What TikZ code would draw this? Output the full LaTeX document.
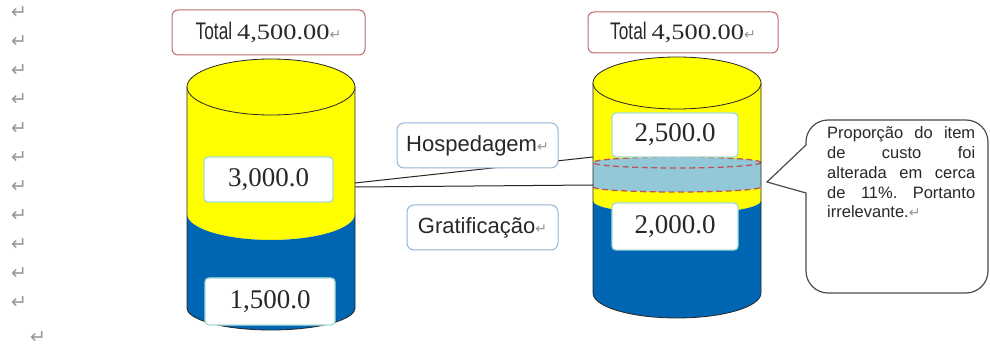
\documentclass[tikz,border=0pt]{standalone}
\usepackage{fontspec}
\usepackage{graphicx}
\newfontfamily\arialf{Liberation Sans}
\newfontfamily\timesf{Liberation Serif}
\newfontfamily\djvf{DejaVu Sans}
\definecolor{cylyellow}{RGB}{255,255,0}
\definecolor{cylblue}{RGB}{0,102,180}
\definecolor{bandblue}{RGB}{146,200,216}
\definecolor{dashred}{RGB}{190,85,85}
\definecolor{totalred}{RGB}{190,105,105}
\definecolor{labelblue}{RGB}{150,180,215}
\definecolor{numteal}{RGB}{165,220,215}
\definecolor{txtgray}{RGB}{40,40,40}
\definecolor{retgray}{RGB}{150,150,150}
\newcommand{\retmark}{{\djvf\fontsize{14}{14}\selectfont\textcolor{retgray}{↵}}}
\newcommand{\totaltext}{{\arialf\fontsize{24}{24}\selectfont\scalebox{0.72}[1]{Total}}\hspace{5pt}{\timesf\fontsize{22}{22}\selectfont\scalebox{1.2}[1]{4,500.00}}\retmark}
\begin{document}
\begin{tikzpicture}[x=1pt,y=-1pt,
  cyledge/.style={draw=black!85, line width=0.8pt},
  banddash/.style={draw=dashred, line width=1.3pt, dash pattern=on 6pt off 3.5pt},
  totalbox/.style={draw=totalred, line width=1pt, rounded corners=6pt, fill=white, inner sep=0pt, text=txtgray},
  numbox/.style={draw=numteal, line width=1.3pt, rounded corners=4pt, fill=white, inner sep=0pt, text=txtgray, font=\timesf\fontsize{27}{27}\selectfont},
  labelbox/.style={draw=labelblue, line width=1pt, rounded corners=7pt, fill=white, inner sep=0pt, text=txtgray, font=\arialf\fontsize{22}{22}\selectfont},
  retcol/.style={inner sep=0pt, text=retgray, font=\djvf\fontsize{19}{19}\selectfont},
  conn/.style={draw=black!85, line width=1pt},
  callout/.style={draw=black!70, line width=1.2pt, fill=white}
]
\useasboundingbox (0,0) rectangle (990,347);
\fill[white] (0,0) rectangle (990,347);

% paragraph marks in the left margin
\foreach \yy [count=\i] in {13,42,71,100,129,158,187,216,245,274,303}
  \node[retcol] (ret\i) at (19,\yy) {↵};
\node[retcol] (retlast) at (38,338) {↵};

% ---------- left cylinder ----------
\fill[cylyellow] (187,87) -- (187,214) arc[start angle=180,end angle=0,x radius=84,y radius=26] -- (355,87) -- cycle;
\fill[cylblue] (187,214) arc[start angle=180,end angle=0,x radius=84,y radius=26] -- (355,308) arc[start angle=0,end angle=180,x radius=84,y radius=22] -- cycle;
\draw[cyledge] (187,87) -- (187,308) arc[start angle=180,end angle=0,x radius=84,y radius=22] -- (355,87);
\draw[cyledge, fill=cylyellow] (271,87) ellipse[x radius=84,y radius=28];

% ---------- right cylinder ----------
\fill[cylyellow] (593,83) -- (593,201) arc[start angle=180,end angle=0,x radius=84,y radius=13] -- (761,83) -- cycle;
\fill[cylblue] (593,201) arc[start angle=180,end angle=0,x radius=84,y radius=13] -- (761,293) arc[start angle=0,end angle=180,x radius=84,y radius=25] -- cycle;
\fill[bandblue] (593,162.5) arc[start angle=180,end angle=360,x radius=84,y radius=5.5] -- (761,187) arc[start angle=0,end angle=180,x radius=84,y radius=5] -- cycle;
\draw[banddash] (677,162.5) ellipse[x radius=84,y radius=5.5];
\draw[banddash] (593,187) arc[start angle=180,end angle=0,x radius=84,y radius=5];
\draw[cyledge] (593,83) -- (593,293) arc[start angle=180,end angle=0,x radius=84,y radius=25] -- (761,83);
\draw[cyledge, fill=cylyellow] (677,83) ellipse[x radius=84,y radius=26];

% ---------- connectors ----------
\coordinate (la) at (355,183);
\coordinate (lb) at (355,187);
\coordinate (ra) at (593,157);
\coordinate (rb) at (593,185);
\draw[conn] (la) -- (ra);
\draw[conn] (lb) -- (rb);

% ---------- boxes ----------
\node[totalbox, minimum width=193pt, minimum height=45pt] (totL) at (268.5,32.5) {\totaltext};
\node[totalbox, minimum width=190pt, minimum height=41pt] (totR) at (683,32.5) {\totaltext};

\node[numbox, minimum width=129pt, minimum height=45pt] (n3000) at (268.5,179.5) {3,000.0};
\node[numbox, minimum width=130pt, minimum height=47pt] (n1500) at (270,301.5) {1,500.0};
\node[numbox, minimum width=126pt, minimum height=44pt] (n2500) at (675,135) {2,500.0};
\node[numbox, minimum width=126pt, minimum height=47pt] (n2000) at (675,226.5) {2,000.0};

\node[labelbox, minimum width=161pt, minimum height=45pt] (hosp) at (477.5,145.5) {Hospedagem\retmark};
\node[labelbox, minimum width=151pt, minimum height=45pt] (grat) at (482.5,227.5) {Gratificação\retmark};

% ---------- callout ----------
\draw[callout] (806,193) -- (767,182) -- (806,145) -- (806,142)
  arc[start angle=180,end angle=270,radius=22] -- (966,120)
  arc[start angle=270,end angle=360,radius=22] -- (988,271)
  arc[start angle=0,end angle=90,radius=22] -- (828,293)
  arc[start angle=90,end angle=180,radius=22] -- cycle;
\node[anchor=base west, inner sep=0pt, text=txtgray, font=\arialf\fontsize{16.5}{19.7}\selectfont] (note) at (827,139)
  {\vtop{\hsize=148pt \baselineskip=19.7pt \lineskiplimit=-20pt
   \hbox to\hsize{Proporção\hfill do\hfill item}
   \hbox to\hsize{de\hfill custo\hfill foi}
   \hbox to\hsize{alterada\hfill em\hfill cerca}
   \hbox to\hsize{de\hfill 11\%.\hfill Portanto}
   \hbox{irrelevante.\retmark}}};
\end{tikzpicture}
\end{document}
